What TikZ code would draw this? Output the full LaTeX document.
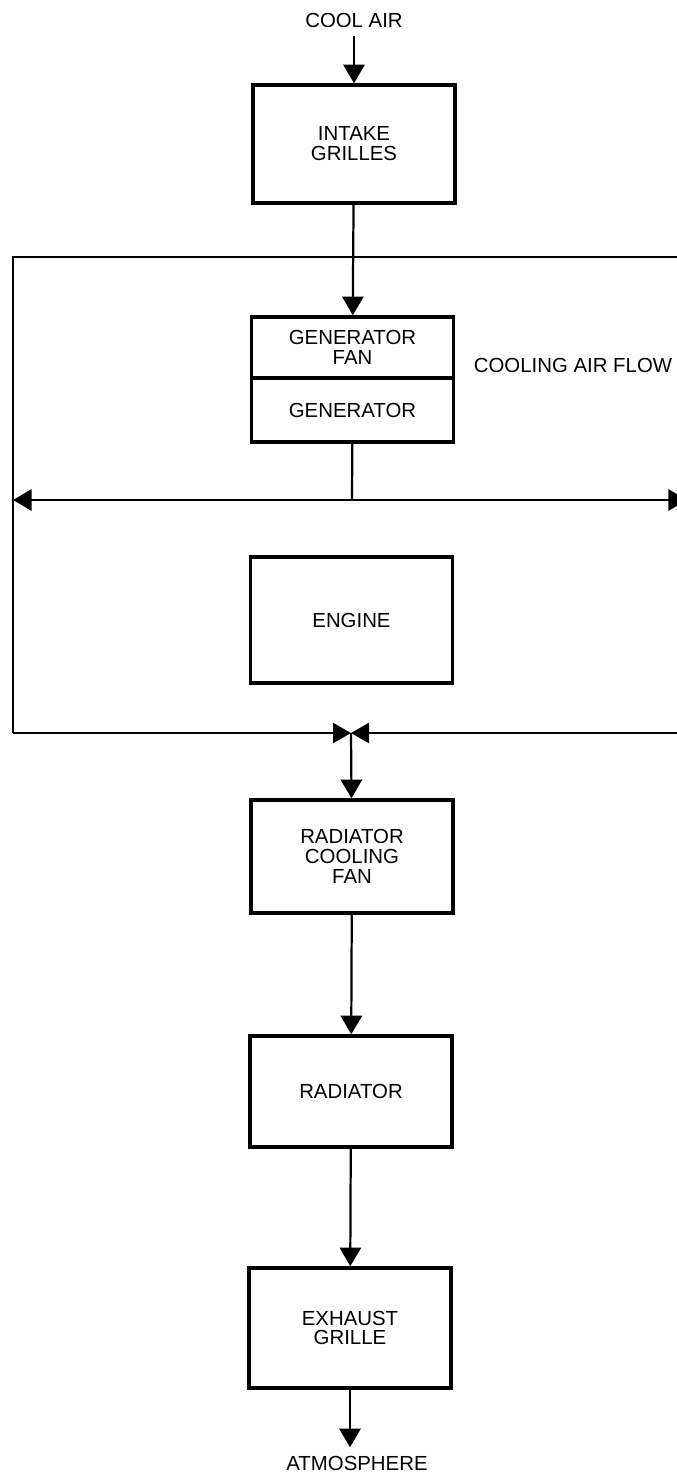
\documentclass[tikz,border=0pt]{standalone}
\usepackage{fontspec}
\setmainfont{Liberation Sans}
\usetikzlibrary{arrows.meta}

\begin{document}
\begin{tikzpicture}[
  x=0.03cm, y=-0.03cm,
  font=\fontsize{17.4}{17}\selectfont,
  unit/.style={draw, line width=3pt, align=center, minimum width=6.06cm, inner sep=0pt},
  tag/.style={inner sep=0.25cm},
  ar/.style={-{Triangle[length=5.6mm,width=6.4mm]}, line width=1.9pt},
  tie/.style={-{Triangle[length=5.4mm,width=6mm]}, line width=1.9pt},
  wall/.style={line width=1.7pt},
]
\useasboundingbox (0,0) rectangle (677,1475);
\clip (0,0) rectangle (677,1475);

\node[tag] (coolair) at (354,20) {COOL AIR};
\node[unit, minimum height=3.54cm] (intake) at (354,144) {INTAKE\\GRILLES};

\node[unit, minimum height=1.83cm] (genfan) at (352.5,347.5) {GENERATOR\\FAN};
\node[unit, minimum height=1.92cm] (gen)    at (352.5,410)   {GENERATOR};
\node[tag] (flow) at (573,365) {COOLING AIR FLOW};

\node[unit, minimum height=3.78cm] (engine)  at (351.5,620)  {ENGINE};
\node[unit, minimum height=3.39cm] (radfan)  at (352,856.5)  {RADIATOR\\COOLING\\FAN};
\node[unit, minimum height=3.33cm] (rad)     at (351,1091.5) {RADIATOR};
\node[unit, minimum height=3.6cm]  (exhaust) at (350,1328)   {EXHAUST\\GRILLE};
\node[tag] (atmos) at (357,1463) {ATMOSPHERE};

% enclosure round generator and engine
\coordinate (ltop) at (13,257);
\coordinate (rtop) at (700,257);
\coordinate (lbot) at (13,733);
\coordinate (rbot) at (700,733);
\coordinate (lmid) at (13,500);
\coordinate (rmid) at (687,500);
\coordinate (split) at (352,500);
\coordinate (join) at (351,733);

\draw[wall] (rtop) -- (ltop) -- (lbot);
\draw[tie] (lbot) -- (join);
\draw[tie] (rbot) -- (join);

\draw[ar] (coolair.south -| intake.north) -- (intake.north);
\draw[ar] (intake) -- (genfan);
\draw[line width=1.9pt] (gen) -- (split);
\draw[ar] (split) -- (lmid);
\draw[ar] (split) -- (rmid);

\draw[ar] (join) -- (radfan);
\draw[ar] (radfan) -- (rad);
\draw[ar] (rad) -- (exhaust);
\draw[ar] (exhaust.south) -- (exhaust.south |- atmos.north);

\end{tikzpicture}
\end{document}
